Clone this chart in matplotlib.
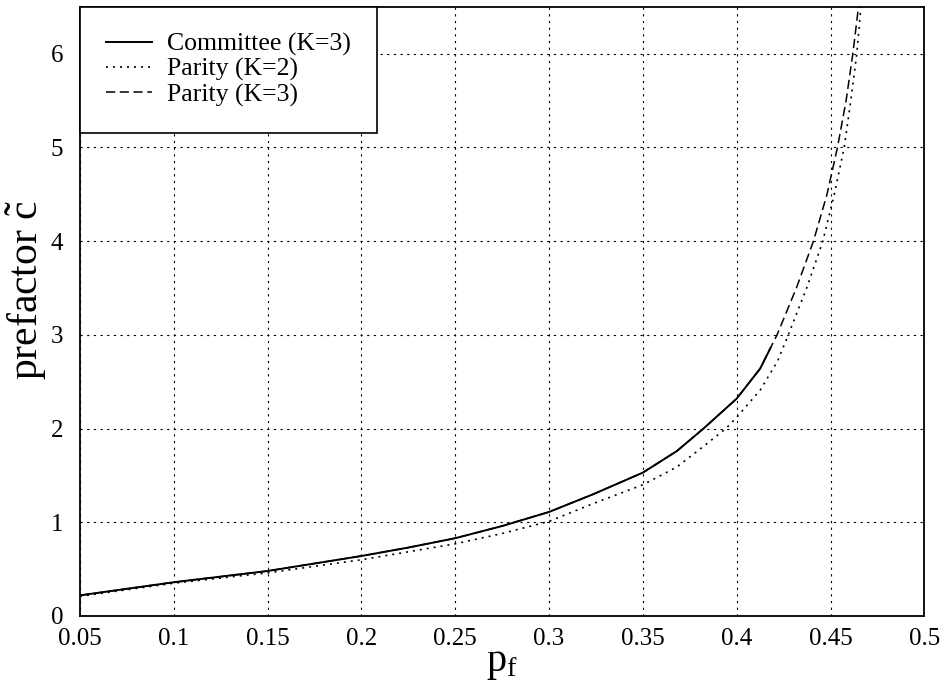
import matplotlib
matplotlib.use("Agg")
import matplotlib.pyplot as plt

plt.rcParams['font.family'] = ['Liberation Serif', 'DejaVu Serif']
plt.rcParams['mathtext.fontset'] = 'custom'
plt.rcParams['mathtext.rm'] = 'Liberation Serif'
plt.rcParams['mathtext.it'] = 'Liberation Serif:italic'

# Data
committee_x = [0.05, 0.075, 0.1, 0.125, 0.15, 0.175, 0.2, 0.225, 0.25, 0.275, 0.3, 0.3236,
               0.35, 0.3681, 0.3823, 0.4, 0.4125, 0.418]
committee_y = [0.22, 0.29, 0.36, 0.42, 0.48, 0.56, 0.64, 0.73, 0.83, 0.96, 1.11, 1.30,
               1.53, 1.76, 2.0, 2.32, 2.64, 2.86]

parity2_x = [0.05, 0.1, 0.15, 0.2, 0.25, 0.275, 0.3, 0.3236, 0.35, 0.3681, 0.3823, 0.3942,
             0.4, 0.4125, 0.4218, 0.4275, 0.4373, 0.4459, 0.4519, 0.4573, 0.4608, 0.464, 0.4662]
parity2_y = [0.21, 0.35, 0.46, 0.60, 0.77, 0.88, 1.01, 1.20, 1.40, 1.59, 1.81, 2.0,
             2.12, 2.41, 2.72, 3.0, 3.5, 4.0, 4.49, 5.0, 5.5, 6.0, 6.5]

parity3_x = [0.05, 0.075, 0.1, 0.125, 0.15, 0.175, 0.2, 0.225, 0.25, 0.275, 0.3, 0.3236,
             0.35, 0.3681, 0.3823, 0.4, 0.4125, 0.418, 0.4215, 0.4318, 0.4409, 0.448, 0.4537,
             0.4583, 0.4619, 0.4649]
parity3_y = [0.22, 0.29, 0.36, 0.42, 0.48, 0.56, 0.64, 0.73, 0.83, 0.96, 1.11, 1.30,
             1.53, 1.76, 2.0, 2.32, 2.64, 2.86, 3.0, 3.5, 4.0, 4.49, 5.0,
             5.5, 6.0, 6.5]

xticks = [0.05, 0.1, 0.15, 0.2, 0.25, 0.3, 0.35, 0.4, 0.45, 0.5]
xticklabels = ['0.05', '0.1', '0.15', '0.2', '0.25', '0.3', '0.35', '0.4', '0.45', '0.5']
yticks = [0, 1, 2, 3, 4, 5, 6]

fig = plt.figure(figsize=(9.46, 6.88), dpi=100)
ax = fig.add_axes([0.0846, 0.1047, 0.8925, 0.8853])

ax.plot(committee_x, committee_y, color='black', lw=1.4, linestyle='-',
        label='Committee (K=3)', zorder=4)
ax.plot(parity2_x, parity2_y, color='black', lw=1.2, linestyle=(0, (1.2, 3)),
        label='Parity (K=2)', zorder=3)
ax.plot(parity3_x, parity3_y, color='black', lw=1.1, linestyle=(0, (6, 3)),
        label='Parity (K=3)', zorder=3)

ax.set_xlim(0.05, 0.5)
ax.set_ylim(0, 6.5)
ax.set_xticks(xticks)
ax.set_xticklabels(xticklabels)
ax.set_yticks(yticks)
ax.tick_params(direction='in', length=0, labelsize=18, colors='black')
ax.tick_params(axis='x', pad=9)
ax.tick_params(axis='y', pad=12)
ax.grid(True, color='black', linestyle=(0, (2, 4)), linewidth=0.8)
for s in ax.spines.values():
    s.set_linewidth(1.3)
    s.set_color('black')

ax.set_xlabel(r'$\mathrm{p_f}$', fontsize=29, labelpad=-4)
ax.set_ylabel(r'prefactor $\tilde{\mathrm{c}}$', fontsize=30)
ax.yaxis.set_label_coords(-0.037, 0.535)

leg = ax.legend(loc='upper left', fontsize=18.5, frameon=True, fancybox=False,
                borderaxespad=0, handlelength=1.8, borderpad=1.0, labelspacing=0.08,
                handletextpad=0.6)
leg.get_frame().set_edgecolor('black')
leg.get_frame().set_linewidth(1.2)
leg.get_frame().set_alpha(1)

fig.savefig('out.png', dpi=100)
